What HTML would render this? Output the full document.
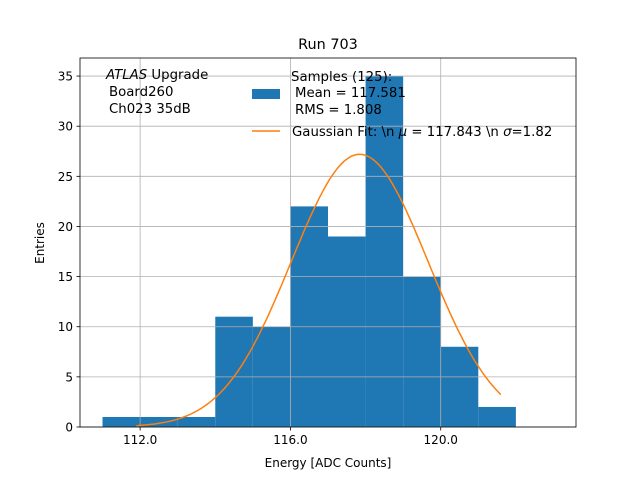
<!DOCTYPE html>
<html><head><meta charset="utf-8"><style>
body{margin:0;background:#fff;}
svg{display:block;font-family:"DejaVu Sans","Liberation Sans",sans-serif;}
</style></head><body>
<svg id="chart" width="640" height="480">
<rect width="640" height="480" fill="#fff"/>
<text x="328" y="49" font-size="14.4" text-anchor="middle">Run 703</text>
<g id="grid"></g>
<g id="bars"></g>
<path id="fit" fill="none" stroke="#ff7f0e" stroke-width="1.5"/>
<rect x="80" y="58" width="496" height="369" fill="none" stroke="#000" stroke-width="0.8"/>
<g id="ticks" font-size="12"></g>
<text x="328" y="467" font-size="12" text-anchor="middle">Energy [ADC Counts]</text>
<text transform="translate(44,243) rotate(-90)" font-size="12" text-anchor="middle">Entries</text>
<g font-size="13.3">
<text x="106" y="79"><tspan font-style="italic">ATLAS</tspan> Upgrade</text>
<text x="109" y="96">Board260</text>
<text x="109" y="113">Ch023 35dB</text>
</g>
<g font-size="13.3">
<rect x="252" y="89" width="28" height="10" fill="#1f77b4"/>
<text x="291" y="81">Samples (125):</text>
<text x="295" y="97">Mean = 117.581</text>
<text x="295" y="114">RMS = 1.808</text>
<line x1="252" y1="131" x2="280" y2="131" stroke="#ff7f0e" stroke-width="1.5"/>
<text x="292" y="136">Gaussian Fit: \n <tspan font-style="italic">μ</tspan> = 117.843 \n <tspan font-style="italic">σ</tspan>=1.82</text>
</g>
</svg>
<script>
const binEdges=[111,112,113,114,115,116,117,118,119,120,121,122];
const counts=[1,1,1,11,10,22,19,35,15,8,2];
const fitMu=117.843, fitSigma=1.82, fitAmp=27.2, fitRange=[111.9,121.6];
const xTicks=[112,116,120], xTickLabels=["112.0","116.0","120.0"];
const yTicks=[0,5,10,15,20,25,30,35];
const X0=80,X1=576,Y0=427,Y1=58,xmin=110.4,xmax=123.6,ymin=0,ymax=36.8;
const sx=v=>X0+(v-xmin)/(xmax-xmin)*(X1-X0);
const sy=v=>Y0-(v-ymin)/(ymax-ymin)*(Y0-Y1);
const NS="http://www.w3.org/2000/svg";
const mk=(t,a,p)=>{const e=document.createElementNS(NS,t);for(const k in a)e.setAttribute(k,a[k]);p.appendChild(e);return e;};
const bars=document.getElementById('bars'),ticks=document.getElementById('ticks');
counts.forEach((c,i)=>{
 const r=mk('rect',{x:sx(binEdges[i]),y:sy(c),width:sx(binEdges[i+1])-sx(binEdges[i]),height:sy(0)-sy(c),fill:'#1f77b4'},bars);
 
 
});
const gtop=document.createElementNS(NS,'g');document.getElementById('chart').insertBefore(gtop,document.getElementById('fit'));
xTicks.forEach((t,i)=>{
 const x=sx(t);
 mk('line',{x1:x,y1:Y1,x2:x,y2:Y0,stroke:'#b0b0b0','stroke-width':0.8},gtop);
 mk('line',{x1:x,y1:Y0,x2:x,y2:Y0+3.5,stroke:'#000','stroke-width':0.8},ticks);
 const tx=mk('text',{x:x,y:Y0+17,'text-anchor':'middle'},ticks);tx.textContent=xTickLabels[i];
 
 
});
yTicks.forEach(t=>{
 const y=sy(t);
 mk('line',{x1:X0,y1:y,x2:X1,y2:y,stroke:'#b0b0b0','stroke-width':0.8},gtop);
 mk('line',{x1:X0-3.5,y1:y,x2:X0,y2:y,stroke:'#000','stroke-width':0.8},ticks);
 const tx=mk('text',{x:X0-7,y:y+4.5,'text-anchor':'end'},ticks);tx.textContent=t;
 
 
});
let d='';
for(let i=0;i<=100;i++){const v=fitRange[0]+(fitRange[1]-fitRange[0])*i/100;
 const f=fitAmp*Math.exp(-0.5*((v-fitMu)/fitSigma)**2);d+=(i?'L':'M')+sx(v).toFixed(1)+','+sy(f).toFixed(1);}
document.getElementById('fit').setAttribute('d',d);
</script>
</body></html>
